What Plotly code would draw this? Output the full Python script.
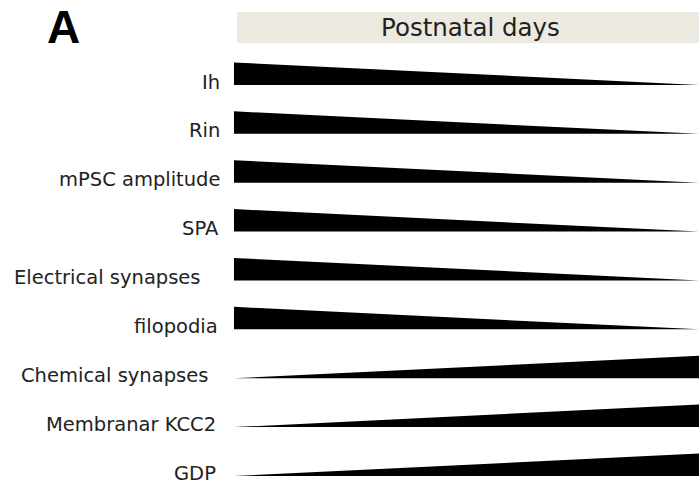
import plotly.graph_objects as go

# ---- data ----
labels = ["Ih", "Rin", "mPSC amplitude", "SPA", "Electrical synapses",
          "filopodia", "Chemical synapses", "Membranar KCC2", "GDP"]
start_level = [1, 1, 1, 1, 1, 1, 0, 0, 0]   # relative size at start of postnatal period
end_level = [0, 0, 0, 0, 0, 0, 1, 1, 1]     # relative size at end of postnatal period
header_text = "Postnatal days"
panel_letter = "A"

# ---- layout constants (styling) ----
W, H = 699, 485
LEFT = 234
ROW_PX = 48.875
FIRST_BOTTOM = 85
WEDGE_H = 22.5 / ROW_PX
label_right_px = [222, 222, 222, 221, 203, 220, 210, 218, 218]
plot_w = W - LEFT

fig = go.Figure()
for i, (lab, s, e) in enumerate(zip(labels, start_level, end_level)):
    fig.add_trace(go.Scatter(
        x=[0, 0, 1, 1, 0],
        y=[i, i - WEDGE_H * s, i - WEDGE_H * e, i, i],
        fill="toself", fillcolor="black", mode="lines",
        line=dict(width=0, color="black"), hoverinfo="skip", showlegend=False))
    fig.add_annotation(x=0, xref="paper", y=i, yref="y", text=lab,
                       xanchor="right", yanchor="middle",
                       xshift=label_right_px[i] - LEFT, yshift=3,
                       showarrow=False,
                       font=dict(family="DejaVu Sans", size=19.5, color="#222222"))

y_top = -FIRST_BOTTOM / ROW_PX
y_bot = (H - FIRST_BOTTOM) / ROW_PX

fig.add_shape(type="rect", xref="paper", yref="paper",
              x0=3 / plot_w, x1=1, y0=1 - 43.3 / H, y1=1 - 12 / H,
              fillcolor="#ECEAE0", line=dict(width=0), layer="below")
fig.add_annotation(x=(470 - LEFT) / plot_w, xref="paper", y=1 - 27.5 / H, yref="paper",
                   text=header_text, showarrow=False, xanchor="center", yanchor="middle",
                   font=dict(family="DejaVu Sans", size=24.5, color="#222222"))
fig.add_annotation(x=(63.5 - LEFT) / plot_w, xref="paper", y=1 - 27 / H, yref="paper",
                   text="<b>" + panel_letter + "</b>", showarrow=False,
                   xanchor="center", yanchor="middle",
                   font=dict(family="Liberation Sans", size=46, color="black"))

fig.update_layout(
    width=W, height=H,
    margin=dict(l=LEFT, r=0, t=0, b=0),
    paper_bgcolor="white", plot_bgcolor="white",
    xaxis=dict(range=[0, 1], visible=False, fixedrange=True),
    yaxis=dict(range=[y_bot, y_top], visible=False, fixedrange=True),
)
fig.write_html("out.html", config={"displayModeBar": False},
               post_script="document.body.style.margin='0';document.body.style.overflow='hidden';")
